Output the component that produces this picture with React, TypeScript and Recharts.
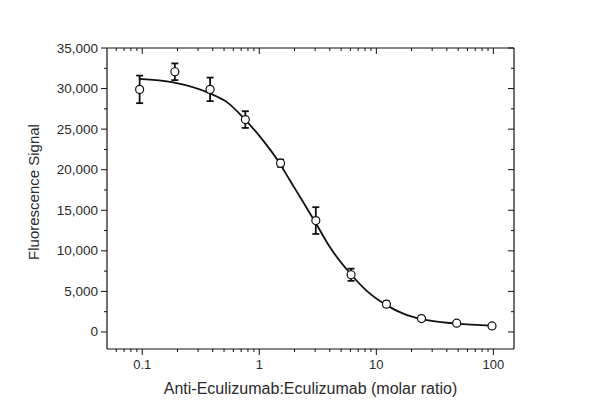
import React from "react";
import {
  ComposedChart,
  Scatter,
  Line,
  XAxis,
  YAxis,
  ErrorBar,
  Label,
} from "recharts";

// measured points (molar ratio vs fluorescence)
const ratios = [0.095, 0.19, 0.38, 0.76, 1.52, 3.04, 6.08, 12.2, 24.3, 48.6, 97.3];
const signal = [29900, 32070, 29900, 26180, 20800, 13730, 7050, 3420, 1650, 1080, 740];
const signalErr = [1700, 1030, 1450, 1030, 450, 1650, 750, 350, 300, 250, 200];

// fitted curve
const fitX = [0.094, 0.184, 0.379, 0.526, 0.73, 1.01, 1.5, 1.83, 2.09, 3.01, 4.02, 6.04, 8.28, 12.1, 17, 24.4, 48.7, 96.9];
const fitY = [31200, 30750, 29400, 28360, 26430, 24100, 20740, 18670, 17300, 13520, 10430, 7140, 5070, 3340, 2260, 1570, 1030, 780];

const xMajor = [0.1, 1, 10, 100];
const xMinor = [
  0.06, 0.07, 0.08, 0.09,
  0.2, 0.3, 0.4, 0.5, 0.6, 0.7, 0.8, 0.9,
  2, 3, 4, 5, 6, 7, 8, 9,
  20, 30, 40, 50, 60, 70, 80, 90,
];
const yMajor = [0, 5000, 10000, 15000, 20000, 25000, 30000, 35000];
const yMinor = [2500, 7500, 12500, 17500, 22500, 27500, 32500];

const points = ratios.map((r, i) => ({ x: r, y: signal[i], err: signalErr[i] }));
const fit = fitX.map((x, i) => ({ x, y: fitY[i] }));

const INK = "#111";
const TXT = "#2a2a2a";
const FONT = "Arial, 'Liberation Sans', sans-serif";

const xTicks = [...xMinor, ...xMajor].sort((a, b) => a - b);
const yTicks = [...yMinor, ...yMajor].sort((a, b) => a - b);

const fmt = (v: number) => v.toLocaleString("en-US");

function BottomTick(props: any) {
  const { x, y, payload } = props;
  const major = xMajor.includes(payload.value);
  return (
    <g>
      <line x1={x} x2={x} y1={y} y2={y + (major ? 6 : 3)} stroke={INK} strokeWidth={1} />
      {major && (
        <text x={x} y={y + 15} textAnchor="middle" dominantBaseline="central" fontSize={13} fill={TXT} fontFamily={FONT}>
          {payload.value}
        </text>
      )}
    </g>
  );
}

function TopTick(props: any) {
  const { x, y, payload } = props;
  const major = xMajor.includes(payload.value);
  return <line x1={x} x2={x} y1={y} y2={y + (major ? 6 : 3)} stroke={INK} strokeWidth={1} />;
}

function LeftTick(props: any) {
  const { x, y, payload } = props;
  const major = payload.value % 5000 === 0;
  return (
    <g>
      <line x1={x - (major ? 6 : 3)} x2={x} y1={y} y2={y} stroke={INK} strokeWidth={1} />
      {major && (
        <text x={x - 9} y={y} textAnchor="end" dominantBaseline="central" fontSize={13.5} fill={TXT} fontFamily={FONT}>
          {fmt(payload.value)}
        </text>
      )}
    </g>
  );
}

function RightTick(props: any) {
  const { x, y, payload } = props;
  const major = payload.value % 5000 === 0;
  return <line x1={x - (major ? 6 : 3)} x2={x} y1={y} y2={y} stroke={INK} strokeWidth={1} />;
}

export default function App() {
  return (
    <div style={{ position: "absolute", left: 0, top: 0, width: 600, height: 419, background: "#fff" }}>
      <ComposedChart
        width={600}
        height={419}
        margin={{ top: 38, right: 76, bottom: 10, left: 27 }}
      >
        <XAxis
          dataKey="x"
          type="number"
          scale="log"
          domain={[0.05, 150]}
          allowDataOverflow
          ticks={xTicks}
          interval={0}
          tickSize={0}
          tickMargin={0}
          tick={<BottomTick />}
          height={60}
          axisLine={{ stroke: INK, strokeWidth: 1.2 }}
        >
          <Label
            content={({ viewBox }: any) => (
              <text
                x={viewBox.x + viewBox.width / 2}
                y={viewBox.y + 39}
                textAnchor="middle"
                dominantBaseline="central"
                fontSize={16}
                fill={TXT}
                fontFamily={FONT}
              >
                Anti-Eculizumab:Eculizumab (molar ratio)
              </text>
            )}
          />
        </XAxis>
        <XAxis
          xAxisId="top"
          orientation="top"
          dataKey="x"
          type="number"
          scale="log"
          domain={[0.05, 150]}
          allowDataOverflow
          ticks={xTicks}
          interval={0}
          tickSize={0}
          tickMargin={0}
          tick={<TopTick />}
          height={10}
          axisLine={{ stroke: INK, strokeWidth: 1.2 }}
        />
        <YAxis
          type="number"
          domain={[-2100, 35000]}
          allowDataOverflow
          ticks={yTicks}
          interval={0}
          tickSize={0}
          tickMargin={0}
          tick={<LeftTick />}
          width={80}
          axisLine={{ stroke: INK, strokeWidth: 1.2 }}
        >
          <Label
            content={({ viewBox }: any) => {
              const cx = viewBox.x + 6;
              const cy = 192;
              return (
                <text
                  x={cx}
                  y={cy}
                  transform={`rotate(-90, ${cx}, ${cy})`}
                  textAnchor="middle"
                  dominantBaseline="central"
                  fontSize={15}
                  fill={TXT}
                  fontFamily={FONT}
                >
                  Fluorescence Signal
                </text>
              );
            }}
          />
        </YAxis>
        <YAxis
          yAxisId="right"
          orientation="right"
          type="number"
          domain={[-2100, 35000]}
          allowDataOverflow
          ticks={yTicks}
          interval={0}
          tickSize={0}
          tickMargin={0}
          tick={<RightTick />}
          width={10}
          axisLine={{ stroke: INK, strokeWidth: 1.2 }}
        />
        <Scatter
          data={points}
          dataKey="y"
          isAnimationActive={false}
          shape={(p: any) => (
            <circle cx={p.cx} cy={p.cy} r={4} fill="#fff" stroke={INK} strokeWidth={1.2} />
          )}
        >
          <ErrorBar dataKey="err" direction="y" width={3.5} stroke={INK} strokeWidth={1.8} />
        </Scatter>
        <Line
          data={fit}
          dataKey="y"
          type="monotone"
          stroke={INK}
          strokeWidth={1.8}
          dot={false}
          activeDot={false}
          isAnimationActive={false}
        />
      </ComposedChart>
    </div>
  );
}
